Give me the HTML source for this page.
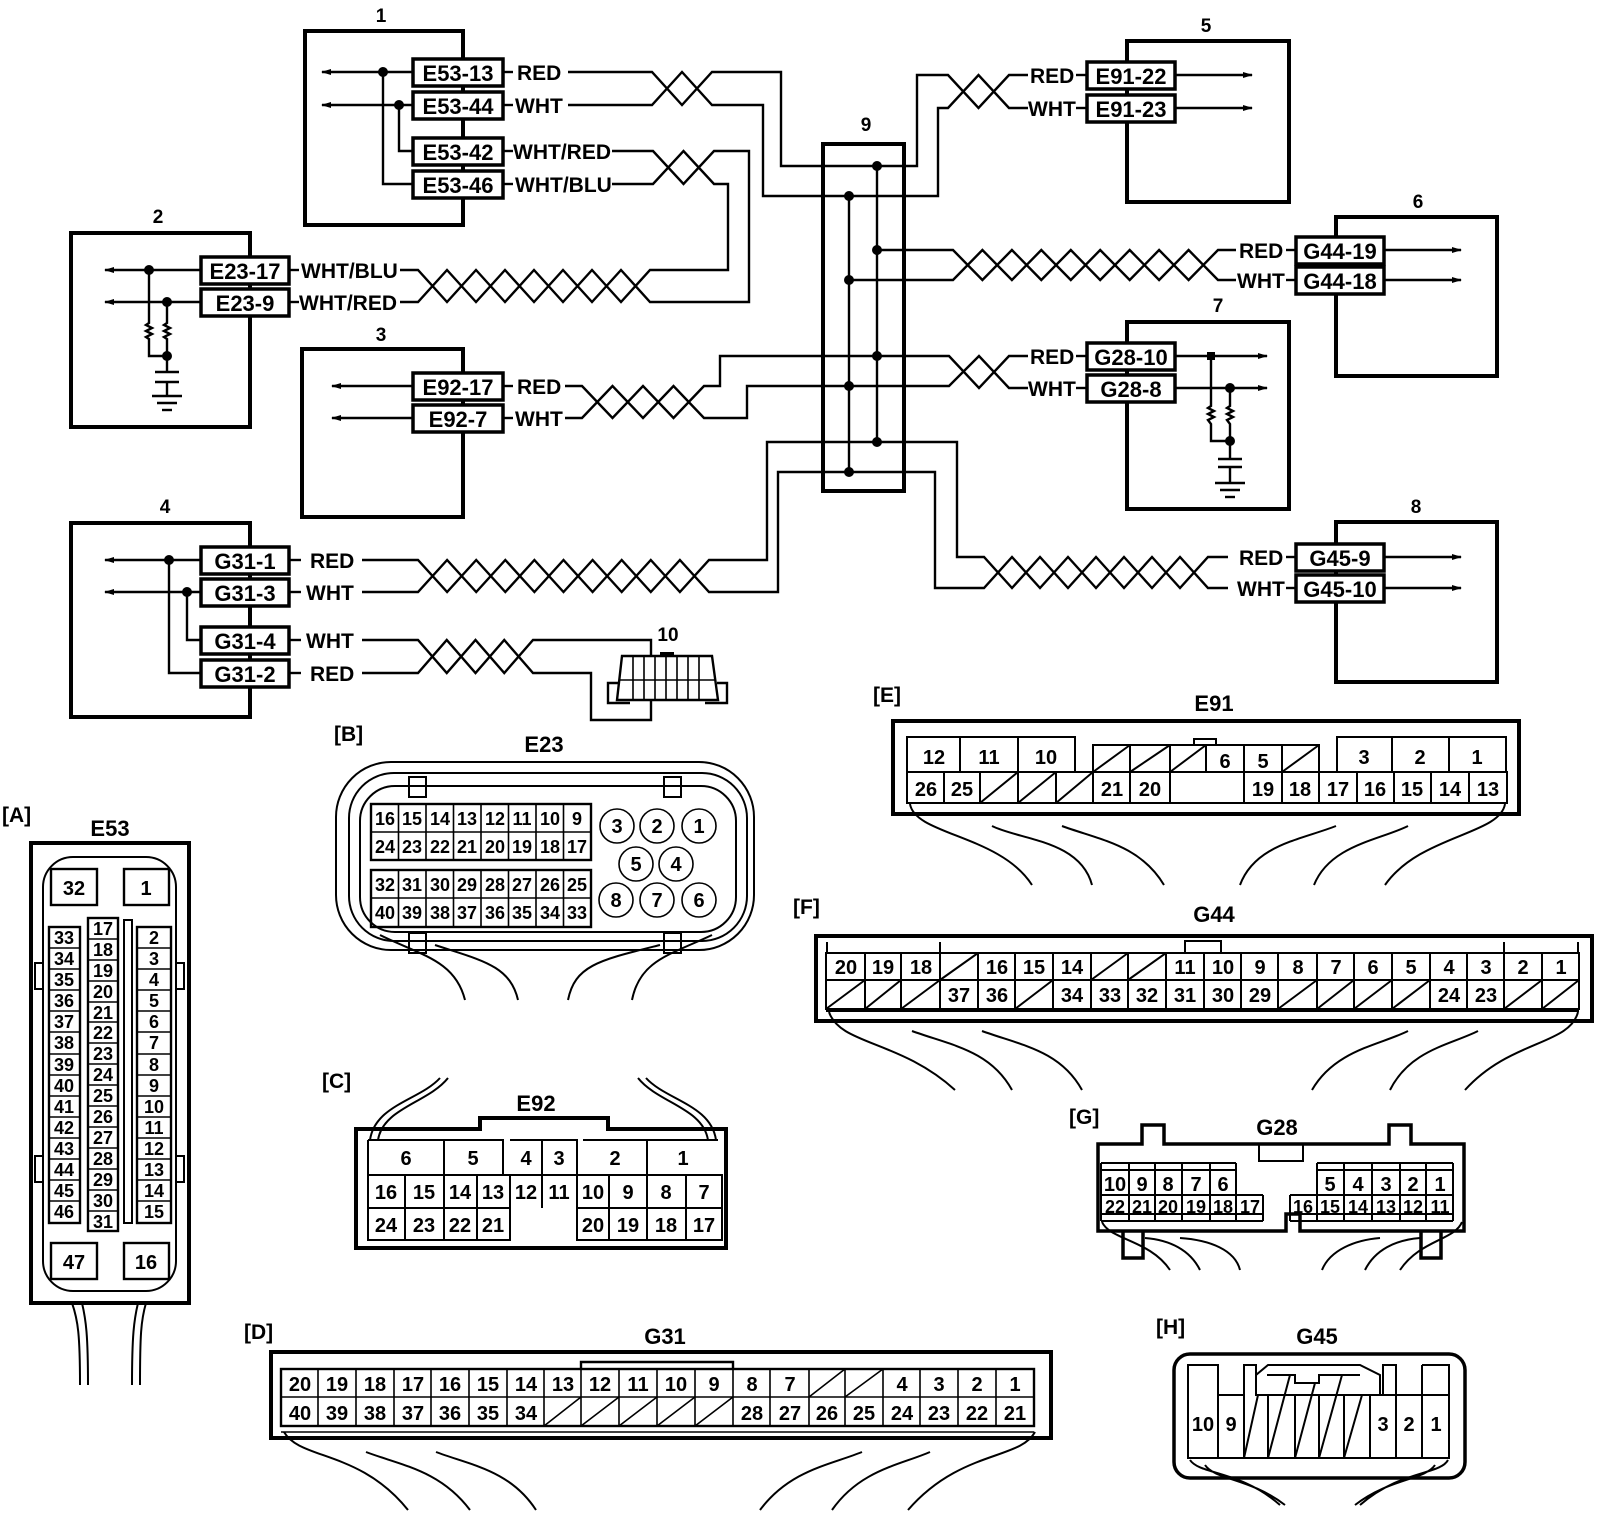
<!DOCTYPE html>
<html><head><meta charset="utf-8"><style>
html,body{margin:0;padding:0;background:#fff}
svg{display:block}
text{font-family:"Liberation Sans",sans-serif;font-weight:bold;fill:#000}
.c{font-size:22px;text-anchor:middle}
.w{font-size:21px}
.h{font-size:19px;text-anchor:middle}
.n{font-size:20px;text-anchor:middle}
.s{font-size:18px;text-anchor:middle}
.b{fill:none;stroke:#000;stroke-width:4}
.l{fill:none;stroke:#000;stroke-width:2.4}
.t{fill:none;stroke:#000;stroke-width:1.6}
.cb{fill:#fff;stroke:#000;stroke-width:3.5}
</style></head><body>
<svg width="1600" height="1530" viewBox="0 0 1600 1530" xmlns="http://www.w3.org/2000/svg">
<defs>
<marker id="ar" markerWidth="10" markerHeight="8" refX="9" refY="4" orient="auto" markerUnits="userSpaceOnUse"><path d="M0,1 L10,4 L0,7 Z" fill="#000"/></marker>
</defs>

<!-- ===== module boxes ===== -->
<rect class="b" x="305" y="31" width="158" height="194"/><text class="h" x="381" y="22">1</text>
<rect class="b" x="71" y="233" width="179" height="194"/><text class="h" x="158" y="223">2</text>
<rect class="b" x="302" y="349" width="161" height="168"/><text class="h" x="381" y="341">3</text>
<rect class="b" x="71" y="523" width="179" height="194"/><text class="h" x="165" y="513">4</text>
<rect class="b" x="1127" y="41" width="162" height="161"/><text class="h" x="1206" y="32">5</text>
<rect class="b" x="1336" y="217" width="161" height="159"/><text class="h" x="1418" y="208">6</text>
<rect class="b" x="1127" y="322" width="162" height="187"/><text class="h" x="1218" y="312">7</text>
<rect class="b" x="1336" y="522" width="161" height="160"/><text class="h" x="1416" y="513">8</text>
<rect class="b" x="823" y="144" width="81" height="347"/><text class="h" x="866" y="131">9</text>
<text class="h" x="668" y="641">10</text>

<!-- ===== wires ===== -->
<polyline class="l" points="568,72 652,72 682,105 712,72 781,72 781,166 917,166 917,75 948,75 978.5,108 1009,75 1028,75"/>
<polyline class="l" points="568,105 652,105 682,72 712,105 763,105 763,196 938,196 938,108 948,108 978.5,75 1009,108 1028,108"/>
<polyline class="l" points="612,151 653,151 683.5,184 714,151 749,151 749,302 650,302 621,270 592,302 563,270 534,302 505,270 476,302 447,270 418,302 400,302"/>
<polyline class="l" points="612,184 653,184 683.5,151 714,184 728,184 728,270 650,270 621,302 592,270 563,302 534,270 505,302 476,270 447,302 418,270 400,270"/>
<polyline class="l" points="565,386 582,386 612.5,418 643,386 673.5,418 704,386 720,386 720,356 949,356 979,388 1009,356 1028,356"/>
<polyline class="l" points="565,418 582,418 612.5,386 643,418 673.5,386 704,418 747,418 747,386 949,386 979,356 1009,388 1028,388"/>
<polyline class="l" points="877,250 953,250 982.4,280 1011.9,250 1041.3,280 1070.8,250 1100.2,280 1129.7,250 1159.1,280 1188.6,250 1218,280 1236,280"/>
<polyline class="l" points="849,280 953,280 982.4,250 1011.9,280 1041.3,250 1070.8,280 1100.2,250 1129.7,280 1159.1,250 1188.6,280 1218,250 1236,250"/>
<polyline class="l" points="362,560 418,560 447.1,592 476.2,560 505.3,592 534.4,560 563.5,592 592.6,560 621.7,592 650.8,560 679.9,592 709,560 767,560 767,442 957,442 957,557 984,557 1012,588 1040,557 1068,588 1096,557 1124,588 1152,557 1180,588 1208,557 1228,557"/>
<polyline class="l" points="362,592 418,592 447.1,560 476.2,592 505.3,560 534.4,592 563.5,560 592.6,592 621.7,560 650.8,592 679.9,560 709,592 778,592 778,472 935,472 935,588 984,588 1012,557 1040,588 1068,557 1096,588 1124,557 1152,588 1180,557 1208,588 1228,588"/>
<polyline class="l" points="362,640 418,640 446.75,673 475.5,640 504.25,673 533,640 651,640 651,656"/>
<polyline class="l" points="362,673 418,673 446.75,640 475.5,673 504.25,640 533,673 591,673 591,720 651,720 651,700"/>
<line class="l" x1="877" y1="166" x2="877" y2="442"/>
<line class="l" x1="849" y1="196" x2="849" y2="472"/>
<g fill="#000">
<circle cx="877" cy="166" r="5"/><circle cx="849" cy="196" r="5"/><circle cx="877" cy="250" r="5"/><circle cx="849" cy="280" r="5"/>
<circle cx="877" cy="356" r="5"/><circle cx="849" cy="386" r="5"/><circle cx="877" cy="442" r="5"/><circle cx="849" cy="472" r="5"/>
</g>

<!-- ===== box 1 internals ===== -->
<line class="l" x1="413" y1="72" x2="322" y2="72" marker-end="url(#ar)"/>
<line class="l" x1="413" y1="105" x2="322" y2="105" marker-end="url(#ar)"/>
<polyline class="l" points="383,72 383,184 413,184"/>
<polyline class="l" points="399,105 399,151 413,151"/>
<circle cx="383" cy="72" r="5"/><circle cx="399" cy="105" r="5"/>
<rect class="cb" x="413" y="59" width="90" height="27"/><text class="c" x="458" y="81">E53-13</text>
<rect class="cb" x="413" y="92" width="90" height="27"/><text class="c" x="458" y="114">E53-44</text>
<rect class="cb" x="413" y="138" width="90" height="27"/><text class="c" x="458" y="160">E53-42</text>
<rect class="cb" x="413" y="171" width="90" height="27"/><text class="c" x="458" y="193">E53-46</text>
<line class="l" x1="503" y1="72" x2="513" y2="72"/><line class="l" x1="503" y1="105" x2="513" y2="105"/>
<line class="l" x1="503" y1="151" x2="513" y2="151"/><line class="l" x1="503" y1="184" x2="513" y2="184"/>
<text class="w" x="517" y="80">RED</text><text class="w" x="515" y="113">WHT</text>
<text class="w" x="513" y="159">WHT/RED</text><text class="w" x="515" y="192">WHT/BLU</text>

<!-- ===== box 2 internals ===== -->
<line class="l" x1="201" y1="270" x2="105" y2="270" marker-end="url(#ar)"/>
<line class="l" x1="201" y1="302" x2="105" y2="302" marker-end="url(#ar)"/>
<polyline class="l" points="149,270 149,323 146,325 152,328 146,331 152,334 146,337 149,339 149,356 167,356"/>
<polyline class="l" points="167,302 167,323 164,325 170,328 164,331 170,334 164,337 167,339 167,372"/>
<circle cx="149" cy="270" r="5"/><circle cx="167" cy="302" r="5"/><circle cx="167" cy="356" r="5"/>
<line class="l" x1="155" y1="372" x2="179" y2="372"/><line class="l" x1="155" y1="382" x2="179" y2="382"/>
<line class="l" x1="167" y1="382" x2="167" y2="396"/>
<line class="l" x1="152" y1="396" x2="182" y2="396"/><line class="l" x1="157" y1="403" x2="177" y2="403"/><line class="l" x1="162" y1="410" x2="172" y2="410"/>
<rect class="cb" x="201" y="257" width="88" height="27"/><text class="c" x="245" y="279">E23-17</text>
<rect class="cb" x="201" y="289" width="88" height="27"/><text class="c" x="245" y="311">E23-9</text>
<line class="l" x1="289" y1="270" x2="299" y2="270"/><line class="l" x1="289" y1="302" x2="299" y2="302"/>
<text class="w" x="301" y="278">WHT/BLU</text><text class="w" x="299" y="310">WHT/RED</text>

<!-- ===== box 3 internals ===== -->
<line class="l" x1="413" y1="386" x2="332" y2="386" marker-end="url(#ar)"/>
<line class="l" x1="413" y1="418" x2="332" y2="418" marker-end="url(#ar)"/>
<rect class="cb" x="413" y="373" width="90" height="27"/><text class="c" x="458" y="395">E92-17</text>
<rect class="cb" x="413" y="405" width="90" height="27"/><text class="c" x="458" y="427">E92-7</text>
<line class="l" x1="503" y1="386" x2="513" y2="386"/><line class="l" x1="503" y1="418" x2="513" y2="418"/>
<text class="w" x="517" y="394">RED</text><text class="w" x="515" y="426">WHT</text>

<!-- ===== box 4 internals ===== -->
<line class="l" x1="201" y1="560" x2="105" y2="560" marker-end="url(#ar)"/>
<line class="l" x1="201" y1="592" x2="105" y2="592" marker-end="url(#ar)"/>
<polyline class="l" points="169,560 169,673 201,673"/>
<polyline class="l" points="187,592 187,640 201,640"/>
<circle cx="169" cy="560" r="5"/><circle cx="187" cy="592" r="5"/>
<rect class="cb" x="201" y="547" width="88" height="27"/><text class="c" x="245" y="569">G31-1</text>
<rect class="cb" x="201" y="579" width="88" height="27"/><text class="c" x="245" y="601">G31-3</text>
<rect class="cb" x="201" y="627" width="88" height="27"/><text class="c" x="245" y="649">G31-4</text>
<rect class="cb" x="201" y="660" width="88" height="27"/><text class="c" x="245" y="682">G31-2</text>
<line class="l" x1="289" y1="560" x2="301" y2="560"/><line class="l" x1="289" y1="592" x2="301" y2="592"/>
<line class="l" x1="289" y1="640" x2="301" y2="640"/><line class="l" x1="289" y1="673" x2="301" y2="673"/>
<text class="w" x="310" y="568">RED</text><text class="w" x="306" y="600">WHT</text>
<text class="w" x="306" y="648">WHT</text><text class="w" x="310" y="681">RED</text>

<!-- connector 10 -->
<rect x="660" y="652" width="14" height="5" fill="#000"/>
<path class="l" d="M622,656 H712 L718,700 H617 Z" fill="#fff"/>
<line class="t" x1="619" y1="680" x2="716" y2="680"/>
<path class="t" d="M633,656V700M644,656V700M655,656V700M666,656V700M677,656V700M688,656V700M699,656V700"/>
<path class="l" d="M618,683 H608 V703 H630"/><path class="l" d="M717,683 H727 V703 H705"/>

<!-- ===== box 5 ===== -->
<line class="l" x1="1175" y1="75" x2="1252" y2="75" marker-end="url(#ar)"/>
<line class="l" x1="1175" y1="108" x2="1252" y2="108" marker-end="url(#ar)"/>
<rect class="cb" x="1087" y="62" width="88" height="27"/><text class="c" x="1131" y="84">E91-22</text>
<rect class="cb" x="1087" y="95" width="88" height="27"/><text class="c" x="1131" y="117">E91-23</text>
<line class="l" x1="1076" y1="75" x2="1087" y2="75"/><line class="l" x1="1076" y1="108" x2="1087" y2="108"/>
<text class="w" x="1030" y="83">RED</text><text class="w" x="1028" y="116">WHT</text>

<!-- ===== box 6 ===== -->
<line class="l" x1="1384" y1="250" x2="1461" y2="250" marker-end="url(#ar)"/>
<line class="l" x1="1384" y1="280" x2="1461" y2="280" marker-end="url(#ar)"/>
<rect class="cb" x="1296" y="237" width="88" height="27"/><text class="c" x="1340" y="259">G44-19</text>
<rect class="cb" x="1296" y="267" width="88" height="27"/><text class="c" x="1340" y="289">G44-18</text>
<line class="l" x1="1286" y1="250" x2="1296" y2="250"/><line class="l" x1="1286" y1="280" x2="1296" y2="280"/>
<text class="w" x="1239" y="258">RED</text><text class="w" x="1237" y="288">WHT</text>

<!-- ===== box 7 ===== -->
<line class="l" x1="1175" y1="356" x2="1267" y2="356" marker-end="url(#ar)"/>
<line class="l" x1="1175" y1="388" x2="1267" y2="388" marker-end="url(#ar)"/>
<polyline class="l" points="1211,356 1211,406 1208,408 1214,411 1208,414 1214,417 1208,420 1211,424 1211,441 1230,441"/>
<polyline class="l" points="1230,388 1230,406 1227,408 1233,411 1227,414 1233,417 1227,420 1230,424 1230,459"/>
<rect x="1207" y="352" width="8" height="8" fill="#000"/><circle cx="1230" cy="388" r="5"/><circle cx="1230" cy="441" r="5"/>
<line class="l" x1="1218" y1="459" x2="1242" y2="459"/><line class="l" x1="1218" y1="467" x2="1242" y2="467"/>
<line class="l" x1="1230" y1="467" x2="1230" y2="483"/>
<line class="l" x1="1215" y1="483" x2="1245" y2="483"/><line class="l" x1="1220" y1="490" x2="1240" y2="490"/><line class="l" x1="1225" y1="497" x2="1235" y2="497"/>
<rect class="cb" x="1087" y="343" width="88" height="27"/><text class="c" x="1131" y="365">G28-10</text>
<rect class="cb" x="1087" y="375" width="88" height="27"/><text class="c" x="1131" y="397">G28-8</text>
<line class="l" x1="1076" y1="356" x2="1087" y2="356"/><line class="l" x1="1076" y1="388" x2="1087" y2="388"/>
<text class="w" x="1030" y="364">RED</text><text class="w" x="1028" y="396">WHT</text>

<!-- ===== box 8 ===== -->
<line class="l" x1="1384" y1="557" x2="1461" y2="557" marker-end="url(#ar)"/>
<line class="l" x1="1384" y1="588" x2="1461" y2="588" marker-end="url(#ar)"/>
<rect class="cb" x="1296" y="544" width="88" height="27"/><text class="c" x="1340" y="566">G45-9</text>
<rect class="cb" x="1296" y="575" width="88" height="27"/><text class="c" x="1340" y="597">G45-10</text>
<line class="l" x1="1286" y1="557" x2="1296" y2="557"/><line class="l" x1="1286" y1="588" x2="1296" y2="588"/>
<text class="w" x="1239" y="565">RED</text><text class="w" x="1237" y="596">WHT</text>

<!-- ===================== [A] E53 ===================== -->
<text class="w" x="2" y="822">[A]</text><text class="c" x="110" y="836">E53</text>
<rect class="b" x="31" y="843" width="158" height="460"/>
<rect class="t" x="43" y="857" width="133" height="434" rx="30" style="stroke-width:2"/>
<rect class="t" x="35" y="963" width="8" height="26" style="stroke-width:2"/><rect class="t" x="35" y="1156" width="8" height="26" style="stroke-width:2"/>
<rect class="t" x="176" y="963" width="8" height="26" style="stroke-width:2"/><rect class="t" x="176" y="1156" width="8" height="26" style="stroke-width:2"/>
<rect class="l" x="51" y="869" width="46" height="36"/><text class="n" x="74" y="895">32</text>
<rect class="l" x="124" y="869" width="45" height="36"/><text class="n" x="146" y="895">1</text>
<rect class="l" x="51" y="1243" width="46" height="36"/><text class="n" x="74" y="1269">47</text>
<rect class="l" x="124" y="1243" width="45" height="36"/><text class="n" x="146" y="1269">16</text>
<rect class="t" x="124" y="920" width="8" height="303" style="stroke-width:2"/>
<rect class="l" x="49" y="927" width="31" height="296"/>
<path class="t" d="M49,948H80M49,969H80M49,990H80M49,1011H80M49,1032H80M49,1054H80M49,1075H80M49,1096H80M49,1117H80M49,1138H80M49,1159H80M49,1180H80M49,1201H80"/>
<rect class="l" x="137" y="927" width="34" height="296"/>
<path class="t" d="M137,948H171M137,969H171M137,990H171M137,1011H171M137,1032H171M137,1054H171M137,1075H171M137,1096H171M137,1117H171M137,1138H171M137,1159H171M137,1180H171M137,1201H171"/>
<rect class="l" x="88" y="918" width="30" height="313"/>
<path class="t" d="M88,939H118M88,960H118M88,981H118M88,1002H118M88,1022H118M88,1043H118M88,1064H118M88,1085H118M88,1106H118M88,1127H118M88,1148H118M88,1169H118M88,1190H118M88,1211H118"/>
<g>
<text class="s" x="64" y="944">33</text><text class="s" x="64" y="965">34</text><text class="s" x="64" y="986">35</text><text class="s" x="64" y="1007">36</text><text class="s" x="64" y="1028">37</text><text class="s" x="64" y="1049">38</text><text class="s" x="64" y="1071">39</text><text class="s" x="64" y="1092">40</text><text class="s" x="64" y="1113">41</text><text class="s" x="64" y="1134">42</text><text class="s" x="64" y="1155">43</text><text class="s" x="64" y="1176">44</text><text class="s" x="64" y="1197">45</text><text class="s" x="64" y="1218">46</text>
<text class="s" x="103" y="935">17</text><text class="s" x="103" y="956">18</text><text class="s" x="103" y="977">19</text><text class="s" x="103" y="998">20</text><text class="s" x="103" y="1019">21</text><text class="s" x="103" y="1039">22</text><text class="s" x="103" y="1060">23</text><text class="s" x="103" y="1081">24</text><text class="s" x="103" y="1102">25</text><text class="s" x="103" y="1123">26</text><text class="s" x="103" y="1144">27</text><text class="s" x="103" y="1165">28</text><text class="s" x="103" y="1186">29</text><text class="s" x="103" y="1207">30</text><text class="s" x="103" y="1228">31</text>
<text class="s" x="154" y="944">2</text><text class="s" x="154" y="965">3</text><text class="s" x="154" y="986">4</text><text class="s" x="154" y="1007">5</text><text class="s" x="154" y="1028">6</text><text class="s" x="154" y="1049">7</text><text class="s" x="154" y="1071">8</text><text class="s" x="154" y="1092">9</text><text class="s" x="154" y="1113">10</text><text class="s" x="154" y="1134">11</text><text class="s" x="154" y="1155">12</text><text class="s" x="154" y="1176">13</text><text class="s" x="154" y="1197">14</text><text class="s" x="154" y="1218">15</text>
</g>
<path class="t" d="M72,1303 C78,1320 80,1335 80,1385 M82,1303 C86,1320 88,1335 88,1385 M138,1303 C134,1320 132,1335 132,1385 M146,1303 C141,1320 140,1335 140,1385" style="stroke-width:2"/>

<!-- ===================== [B] E23 ===================== -->
<text class="w" x="334" y="741">[B]</text><text class="c" x="544" y="752">E23</text>
<rect class="t" x="336" y="762" width="418" height="188" rx="55" style="stroke-width:2"/>
<rect class="t" x="349" y="773" width="398" height="168" rx="45" style="stroke-width:2"/>
<rect class="t" x="360" y="786" width="376" height="146" rx="35" style="stroke-width:2"/>
<rect class="t" x="409" y="777" width="17" height="20" fill="#fff" style="stroke-width:2"/><rect class="t" x="664" y="777" width="17" height="20" fill="#fff" style="stroke-width:2"/>
<rect class="t" x="409" y="933" width="17" height="20" fill="#fff" style="stroke-width:2"/><rect class="t" x="664" y="933" width="17" height="20" fill="#fff" style="stroke-width:2"/>
<rect class="l" x="371" y="804" width="220" height="56" fill="#fff"/>
<rect class="l" x="371" y="870" width="220" height="57" fill="#fff"/>
<path class="t" d="M371,832H591M371,898H591M398.5,804V860M426,804V860M453.5,804V860M481,804V860M508.5,804V860M536,804V860M563.5,804V860M398.5,870V927M426,870V927M453.5,870V927M481,870V927M508.5,870V927M536,870V927M563.5,870V927"/>
<g>
<text class="s" x="385" y="825">16</text><text class="s" x="412" y="825">15</text><text class="s" x="440" y="825">14</text><text class="s" x="467" y="825">13</text><text class="s" x="495" y="825">12</text><text class="s" x="522" y="825">11</text><text class="s" x="550" y="825">10</text><text class="s" x="577" y="825">9</text>
<text class="s" x="385" y="853">24</text><text class="s" x="412" y="853">23</text><text class="s" x="440" y="853">22</text><text class="s" x="467" y="853">21</text><text class="s" x="495" y="853">20</text><text class="s" x="522" y="853">19</text><text class="s" x="550" y="853">18</text><text class="s" x="577" y="853">17</text>
<text class="s" x="385" y="891">32</text><text class="s" x="412" y="891">31</text><text class="s" x="440" y="891">30</text><text class="s" x="467" y="891">29</text><text class="s" x="495" y="891">28</text><text class="s" x="522" y="891">27</text><text class="s" x="550" y="891">26</text><text class="s" x="577" y="891">25</text>
<text class="s" x="385" y="919">40</text><text class="s" x="412" y="919">39</text><text class="s" x="440" y="919">38</text><text class="s" x="467" y="919">37</text><text class="s" x="495" y="919">36</text><text class="s" x="522" y="919">35</text><text class="s" x="550" y="919">34</text><text class="s" x="577" y="919">33</text>
</g>
<g style="stroke-width:2">
<circle class="t" cx="617" cy="826" r="17"/><circle class="t" cx="657" cy="826" r="17"/><circle class="t" cx="699" cy="826" r="17"/>
<circle class="t" cx="636" cy="864" r="17"/><circle class="t" cx="676" cy="864" r="17"/>
<circle class="t" cx="616" cy="900" r="17"/><circle class="t" cx="657" cy="900" r="17"/><circle class="t" cx="699" cy="900" r="17"/>
</g>
<text class="n" x="617" y="833">3</text><text class="n" x="657" y="833">2</text><text class="n" x="699" y="833">1</text>
<text class="n" x="636" y="871">5</text><text class="n" x="676" y="871">4</text>
<text class="n" x="616" y="907">8</text><text class="n" x="657" y="907">7</text><text class="n" x="699" y="907">6</text>
<path class="t" style="stroke-width:2" d="M380,935 C420,955 455,960 465,1000 M435,945 C480,960 510,965 518,1000 M660,945 C600,960 575,965 568,1000 M712,935 C670,955 640,960 632,1000"/>

<!-- ===================== [C] E92 ===================== -->
<text class="w" x="322" y="1088">[C]</text><text class="c" x="536" y="1111">E92</text>
<path class="t" style="stroke-width:2" d="M370,1140 C375,1105 420,1100 440,1078 M378,1140 C383,1108 428,1103 448,1078 M716,1140 C711,1105 666,1100 646,1078 M708,1140 C703,1108 658,1103 638,1078"/>
<path class="b" d="M356,1129 H480 V1118 H608 V1129 H726 V1248 H356 Z"/>
<path class="t" style="stroke-width:2" d="M368,1140 H503 V1175 M510,1140 H577 V1175 M583,1140 H718 M444,1140 V1175 M542,1140 V1175 M647,1140 V1175"/>
<path class="t" style="stroke-width:2" d="M368,1175 H722 V1240 H577 V1208 M368,1140 V1240 H510 V1208 M368,1208 H510 M577,1208 H722 M405,1175 V1240 M444,1175 V1240 M477,1175 V1240 M510,1175 V1208 M542,1175 V1208 M577,1175 V1240 M609,1175 V1240 M647,1175 V1240 M686,1175 V1240"/>
<text class="n" x="406" y="1165">6</text><text class="n" x="473" y="1165">5</text><text class="n" x="526" y="1165">4</text><text class="n" x="559" y="1165">3</text><text class="n" x="615" y="1165">2</text><text class="n" x="683" y="1165">1</text>
<text class="n" x="386" y="1199">16</text><text class="n" x="424" y="1199">15</text><text class="n" x="460" y="1199">14</text><text class="n" x="493" y="1199">13</text><text class="n" x="526" y="1199">12</text><text class="n" x="559" y="1199">11</text><text class="n" x="593" y="1199">10</text><text class="n" x="628" y="1199">9</text><text class="n" x="666" y="1199">8</text><text class="n" x="704" y="1199">7</text>
<text class="n" x="386" y="1232">24</text><text class="n" x="424" y="1232">23</text><text class="n" x="460" y="1232">22</text><text class="n" x="493" y="1232">21</text><text class="n" x="593" y="1232">20</text><text class="n" x="628" y="1232">19</text><text class="n" x="666" y="1232">18</text><text class="n" x="704" y="1232">17</text>

<!-- ===================== [D] G31 ===================== -->
<text class="w" x="244" y="1339">[D]</text><text class="c" x="665" y="1344">G31</text>
<rect class="b" x="271" y="1352" width="780" height="86"/>
<polyline class="l" points="581,1369 581,1362 733,1362 733,1369"/>
<rect class="l" x="281" y="1369" width="753" height="57"/>
<line class="t" x1="281" y1="1397" x2="1034" y2="1397"/>
<line class="t" x1="281" y1="1432" x2="1034" y2="1432"/>
<path class="t" d="M318,1369V1426M356,1369V1426M394,1369V1426M431,1369V1426M469,1369V1426M507,1369V1426M544,1369V1426M581,1369V1426M619,1369V1426M657,1369V1426M695,1369V1426M733,1369V1426M770,1369V1426M809,1369V1426M845,1369V1426M883,1369V1426M920,1369V1426M958,1369V1426M996,1369V1426"/>
<path class="t" d="M809,1397L845,1369M845,1397L883,1369M544,1426L581,1397M581,1426L619,1397M619,1426L657,1397M657,1426L695,1397M695,1426L733,1397"/>
<g>
<text class="n" x="300" y="1391">20</text><text class="n" x="337" y="1391">19</text><text class="n" x="375" y="1391">18</text><text class="n" x="413" y="1391">17</text><text class="n" x="450" y="1391">16</text><text class="n" x="488" y="1391">15</text><text class="n" x="526" y="1391">14</text><text class="n" x="563" y="1391">13</text><text class="n" x="600" y="1391">12</text><text class="n" x="638" y="1391">11</text><text class="n" x="676" y="1391">10</text><text class="n" x="714" y="1391">9</text><text class="n" x="752" y="1391">8</text><text class="n" x="790" y="1391">7</text><text class="n" x="902" y="1391">4</text><text class="n" x="939" y="1391">3</text><text class="n" x="977" y="1391">2</text><text class="n" x="1015" y="1391">1</text>
<text class="n" x="300" y="1420">40</text><text class="n" x="337" y="1420">39</text><text class="n" x="375" y="1420">38</text><text class="n" x="413" y="1420">37</text><text class="n" x="450" y="1420">36</text><text class="n" x="488" y="1420">35</text><text class="n" x="526" y="1420">34</text><text class="n" x="752" y="1420">28</text><text class="n" x="790" y="1420">27</text><text class="n" x="827" y="1420">26</text><text class="n" x="864" y="1420">25</text><text class="n" x="902" y="1420">24</text><text class="n" x="939" y="1420">23</text><text class="n" x="977" y="1420">22</text><text class="n" x="1015" y="1420">21</text>
</g>
<path class="t" style="stroke-width:2" d="M284,1432 C300,1460 360,1450 408,1510 M366,1452 C400,1465 440,1470 470,1510 M436,1452 C470,1465 510,1470 536,1510 M1035,1432 C1020,1460 960,1450 908,1510 M930,1452 C900,1465 860,1470 832,1510 M862,1452 C830,1465 790,1470 760,1510"/>

<!-- ===================== [E] E91 ===================== -->
<text class="w" x="873" y="702">[E]</text><text class="c" x="1214" y="711">E91</text>
<rect class="b" x="893" y="721" width="626" height="93"/>
<rect class="t" x="907" y="737" width="168" height="35" style="stroke-width:2"/>
<path class="t" style="stroke-width:2" d="M960,737V772M1018,737V772"/>
<rect class="t" x="1337" y="737" width="169" height="35" style="stroke-width:2"/>
<path class="t" style="stroke-width:2" d="M1392,737V772M1449,737V772"/>
<rect class="t" x="1093" y="745" width="226" height="27" style="stroke-width:2"/>
<rect x="1194" y="739" width="22" height="6" class="t" style="stroke-width:2"/>
<path class="t" style="stroke-width:2" d="M1130,745V772M1170,745V772M1206,745V772M1244,745V772M1282,745V772 M1093,772L1130,745M1130,772L1170,745M1170,772L1206,745M1282,772L1319,745"/>
<rect class="t" x="907" y="772" width="600" height="31" style="stroke-width:2"/>
<path class="t" style="stroke-width:2" d="M944,772V803M980,772V803M1018,772V803M1056,772V803M1093,772V803M1130,772V803M1170,772V803M1244,772V803M1282,772V803M1319,772V803M1357,772V803M1394,772V803M1431,772V803M1469,772V803 M980,803L1018,772M1018,803L1056,772M1056,803L1093,772"/>
<text class="n" x="934" y="764">12</text><text class="n" x="989" y="764">11</text><text class="n" x="1046" y="764">10</text><text class="n" x="1225" y="768">6</text><text class="n" x="1263" y="768">5</text><text class="n" x="1364" y="764">3</text><text class="n" x="1420" y="764">2</text><text class="n" x="1477" y="764">1</text>
<text class="n" x="926" y="796">26</text><text class="n" x="962" y="796">25</text><text class="n" x="1112" y="796">21</text><text class="n" x="1150" y="796">20</text><text class="n" x="1263" y="796">19</text><text class="n" x="1300" y="796">18</text><text class="n" x="1338" y="796">17</text><text class="n" x="1375" y="796">16</text><text class="n" x="1412" y="796">15</text><text class="n" x="1450" y="796">14</text><text class="n" x="1488" y="796">13</text>
<path class="t" style="stroke-width:2" d="M910,804 C915,835 1000,835 1032,885 M992,826 C1020,840 1080,840 1092,885 M1062,826 C1100,840 1140,845 1164,885 M1505,804 C1500,835 1420,835 1385,885 M1408,826 C1380,840 1330,845 1314,885 M1336,826 C1300,840 1255,845 1240,885"/>

<!-- ===================== [F] G44 ===================== -->
<text class="w" x="793" y="914">[F]</text><text class="c" x="1214" y="922">G44</text>
<rect class="b" x="816" y="936" width="776" height="85"/>
<rect x="1185" y="941" width="36" height="12" class="t" style="stroke-width:2"/>
<path class="t" style="stroke-width:2" d="M827,942V953M940,942V953M1504,942V953M1578,942V953"/>
<rect class="t" x="826" y="953" width="753" height="56" style="stroke-width:2"/>
<line class="t" x1="826" y1="980" x2="1579" y2="980" style="stroke-width:2"/>
<line class="t" x1="826" y1="1011" x2="1579" y2="1011" style="stroke-width:2"/>
<path class="t" style="stroke-width:2" d="M865,953V1009M901,953V1009M940,953V1009M978,953V1009M1015,953V1009M1053,953V1009M1091,953V1009M1128,953V1009M1166,953V1009M1204,953V1009M1241,953V1009M1278,953V1009M1317,953V1009M1354,953V1009M1392,953V1009M1430,953V1009M1467,953V1009M1504,953V1009M1542,953V1009"/>
<path class="t" style="stroke-width:2" d="M826,1009L865,980M865,1009L901,980M901,1009L940,980M940,980L978,953M1015,1009L1053,980M1091,980L1128,953M1128,980L1166,953M1278,1009L1317,980M1317,1009L1354,980M1354,1009L1392,980M1392,1009L1430,980M1504,1009L1542,980M1542,1009L1579,980"/>
<g>
<text class="n" x="846" y="974">20</text><text class="n" x="883" y="974">19</text><text class="n" x="921" y="974">18</text><text class="n" x="997" y="974">16</text><text class="n" x="1034" y="974">15</text><text class="n" x="1072" y="974">14</text><text class="n" x="1185" y="974">11</text><text class="n" x="1223" y="974">10</text><text class="n" x="1260" y="974">9</text><text class="n" x="1298" y="974">8</text><text class="n" x="1336" y="974">7</text><text class="n" x="1373" y="974">6</text><text class="n" x="1411" y="974">5</text><text class="n" x="1449" y="974">4</text><text class="n" x="1486" y="974">3</text><text class="n" x="1523" y="974">2</text><text class="n" x="1561" y="974">1</text>
<text class="n" x="959" y="1002">37</text><text class="n" x="997" y="1002">36</text><text class="n" x="1072" y="1002">34</text><text class="n" x="1110" y="1002">33</text><text class="n" x="1147" y="1002">32</text><text class="n" x="1185" y="1002">31</text><text class="n" x="1223" y="1002">30</text><text class="n" x="1260" y="1002">29</text><text class="n" x="1449" y="1002">24</text><text class="n" x="1486" y="1002">23</text>
</g>
<path class="t" style="stroke-width:2" d="M829,1012 C840,1045 900,1040 955,1090 M912,1031 C950,1045 990,1050 1012,1090 M982,1031 C1020,1045 1060,1050 1082,1090 M1578,1012 C1570,1045 1510,1040 1465,1090 M1478,1031 C1450,1045 1410,1050 1390,1090 M1408,1031 C1380,1045 1335,1050 1312,1090"/>

<!-- ===================== [G] G28 ===================== -->
<text class="w" x="1069" y="1124">[G]</text><text class="c" x="1277" y="1135">G28</text>
<path class="b" style="stroke-width:3.5" d="M1098,1144 H1142 V1125 H1164 V1144 H1389 V1125 H1411 V1144 H1464 V1231 H1300 V1214 H1286 V1231 H1098 Z"/>
<rect class="t" x="1259" y="1144" width="44" height="17" style="stroke-width:2"/>
<path class="b" style="stroke-width:3.5" d="M1123,1231 V1258 H1143 V1231 M1421,1231 V1258 H1441 V1231"/>
<path class="t" style="stroke-width:2" d="M1101,1163H1236M1101,1170H1236M1101,1195H1263M1101,1214H1263M1101,1221H1263M1101,1163V1221M1129,1163V1221M1155,1163V1221M1182,1163V1221M1210,1163V1221M1236,1163V1221M1263,1195V1221"/>
<path class="t" style="stroke-width:2" d="M1317,1163H1453M1317,1170H1453M1290,1195H1453M1290,1214H1453M1290,1221H1453M1453,1163V1221M1317,1163V1221M1344,1163V1221M1372,1163V1221M1400,1163V1221M1426,1163V1221M1290,1195V1221"/>
<g>
<text class="n" x="1115" y="1191">10</text><text class="n" x="1142" y="1191">9</text><text class="n" x="1168" y="1191">8</text><text class="n" x="1196" y="1191">7</text><text class="n" x="1223" y="1191">6</text>
<text class="s" x="1115" y="1213">22</text><text class="s" x="1142" y="1213">21</text><text class="s" x="1168" y="1213">20</text><text class="s" x="1196" y="1213">19</text><text class="s" x="1223" y="1213">18</text><text class="s" x="1250" y="1213">17</text>
<text class="n" x="1330" y="1191">5</text><text class="n" x="1358" y="1191">4</text><text class="n" x="1386" y="1191">3</text><text class="n" x="1413" y="1191">2</text><text class="n" x="1440" y="1191">1</text>
<text class="s" x="1303" y="1213">16</text><text class="s" x="1330" y="1213">15</text><text class="s" x="1358" y="1213">14</text><text class="s" x="1386" y="1213">13</text><text class="s" x="1413" y="1213">12</text><text class="s" x="1440" y="1213">11</text>
</g>
<path class="t" style="stroke-width:2" d="M1102,1222 C1110,1240 1150,1240 1170,1270 M1145,1238 C1170,1240 1190,1250 1200,1270 M1180,1238 C1210,1240 1235,1250 1240,1270 M1462,1222 C1455,1240 1420,1240 1400,1270 M1420,1238 C1395,1240 1375,1250 1365,1270 M1380,1238 C1355,1240 1330,1250 1322,1270"/>

<!-- ===================== [H] G45 ===================== -->
<text class="w" x="1156" y="1334">[H]</text><text class="c" x="1317" y="1344">G45</text>
<rect class="b" x="1174" y="1354" width="291" height="124" rx="16" style="stroke-width:3.5"/>
<path class="t" style="stroke-width:2" d="M1188,1365 H1218 V1395 H1244 V1365 H1256 V1395 H1449 V1458 H1188 Z M1422,1365 H1449 V1458 M1422,1365 V1458 M1370,1395 H1396 V1365 H1383 V1395 M1396,1395 H1422"/>
<path class="t" style="stroke-width:2" d="M1256,1395 V1375 L1268,1365 H1360 L1380,1375 V1395 M1267,1375 H1295 V1383 H1319 V1375 H1360"/>
<path class="t" style="stroke-width:2" d="M1218,1395 V1458 M1244,1395 V1458 M1268,1395 V1458 M1295,1395 V1458 M1319,1395 V1458 M1344,1395 V1458 M1370,1395 V1458 M1396,1395 V1458"/>
<path class="t" style="stroke-width:2" d="M1244,1458 L1258,1395 M1268,1458 L1290,1375 M1295,1458 L1315,1383 M1319,1458 L1342,1375 M1344,1458 L1362,1395"/>
<text class="n" x="1203" y="1431">10</text><text class="n" x="1231" y="1431">9</text><text class="n" x="1383" y="1431">3</text><text class="n" x="1409" y="1431">2</text><text class="n" x="1436" y="1431">1</text>
<path class="t" style="stroke-width:2" d="M1190,1460 C1200,1475 1240,1470 1280,1505 M1205,1465 C1215,1480 1250,1478 1285,1505 M1448,1460 C1440,1475 1400,1470 1360,1505 M1435,1465 C1425,1480 1390,1478 1355,1505"/>
</svg>
</body></html>
